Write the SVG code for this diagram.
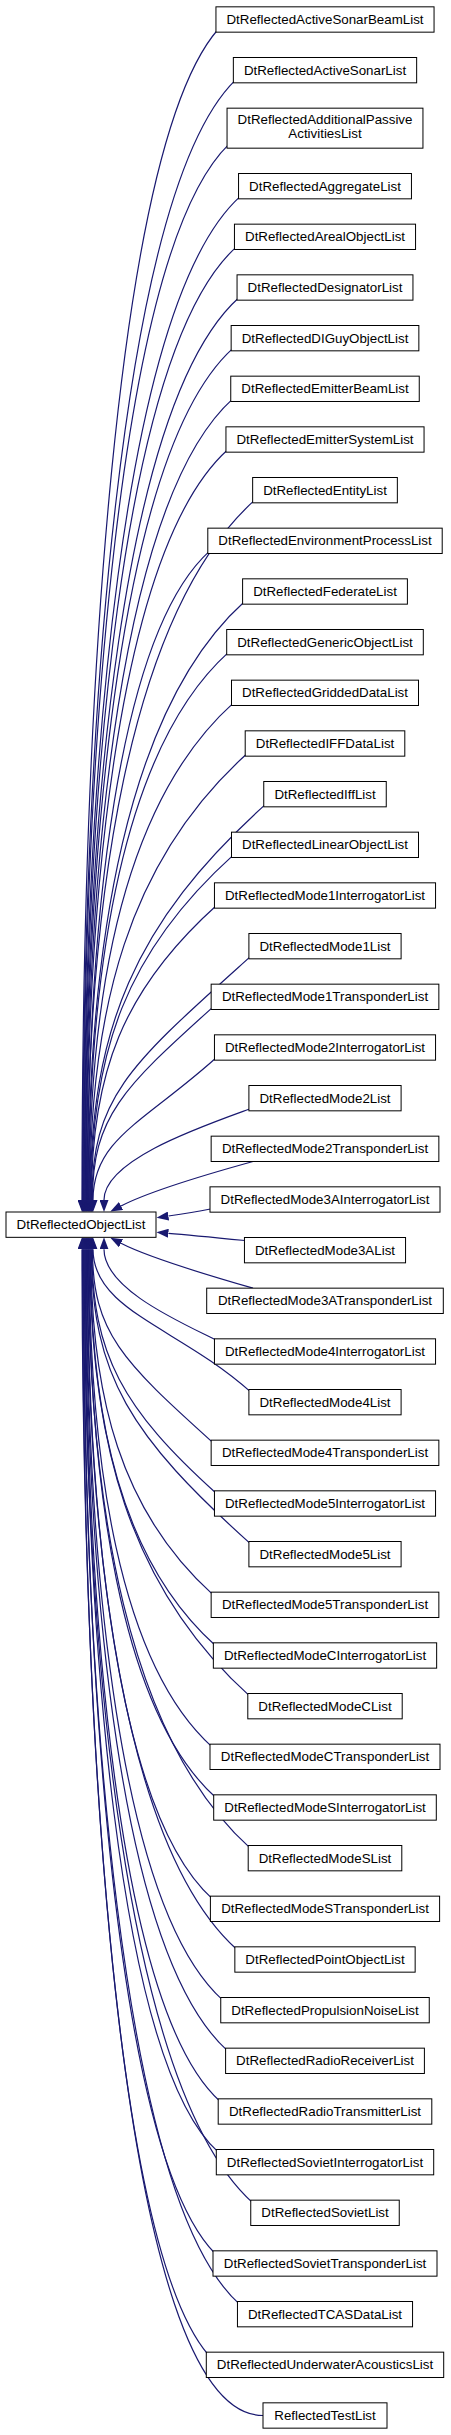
<svg xmlns="http://www.w3.org/2000/svg" width="451" height="2435" viewBox="0 0 451 2435">
<defs>
<marker id="ah" markerUnits="userSpaceOnUse" markerWidth="12" markerHeight="9" refX="0" refY="4.5" orient="auto" viewBox="0 0 12 9"><path d="M0,0L12,4.5L0,9z" fill="#191970"/></marker>
</defs>
<style>
.n rect{fill:#fff;stroke:#000;stroke-width:1}
.n text{font-family:'Liberation Sans',Arial,sans-serif;font-size:13.33px;text-anchor:middle;fill:#000}
.e path{fill:none;stroke:#191970;stroke-width:1.2;marker-end:url(#ah)}
</style>
<rect width="451" height="2435" fill="#fff"/>
<g id="edges" class="e">
<path d="M217.95,29.5 C116,146.55 82,696.7 82,1200"/>
<path d="M235.35,80.17 C120.75,192.2 82.55,718.5 82.55,1200"/>
<path d="M229.05,144.17 C119.55,249.8 83.1,746 83.1,1200"/>
<path d="M240.55,196.17 C122.85,302.1 83.65,768.4 83.65,1200"/>
<path d="M236.45,246.83 C122.25,349.6 84.2,790.1 84.2,1200"/>
<path d="M239.05,297.5 C123.35,401.6 84.75,811.9 84.75,1200"/>
<path d="M233.15,348.17 C122.25,448 85.3,833.7 85.3,1200"/>
<path d="M232.75,398.83 C122.55,498 85.85,855.5 85.85,1200"/>
<path d="M227.95,449.5 C121.75,545.1 86.4,877.3 86.4,1200"/>
<path d="M254.65,500.17 C128.85,613.4 86.95,899.1 86.95,1200"/>
<path d="M209.8,550.83 C118.1,633.3 87.5,920.9 87.5,1200"/>
<path d="M244.6,601.5 C127.2,707.2 88.05,942.6 88.05,1200"/>
<path d="M228.7,652.17 C123.6,746.8 88.6,964.4 88.6,1200"/>
<path d="M233.5,702.83 C125.2,800.2 89.15,986.2 89.15,1200"/>
<path d="M247.2,753.5 C129.1,859.8 89.7,1008 89.7,1200"/>
<path d="M265.75,804.17 C134.15,922.7 90.25,1029.8 90.25,1200"/>
<path d="M233.5,854.83 C126.5,951.1 90.8,1051.6 90.8,1200"/>
<path d="M216.45,905.5 C122.65,989.9 91.35,1073.4 91.35,1200"/>
<path d="M250.9,956.17 C131.65,1063.5 91.9,1095.2 91.9,1200"/>
<path d="M213.15,1006.83 C122.65,1088.3 92.45,1116.9 92.45,1200"/>
<path d="M216.45,1057.5 C145.2,1121.6 93,1138.7 93,1200"/>
<path d="M249.5,1109 C200,1127 104,1160 104,1200"/>
<path d="M253,1161.5 C215,1172 148,1192 121,1206"/>
<path d="M210.5,1209 C195,1212 182,1214 168.4,1216"/>
<path d="M245,1240.5 C215,1237.5 190,1235 168.4,1233.3"/>
<path d="M253,1288.2 C215,1277.3 148,1257.3 121,1243.3"/>
<path d="M216,1340 C180,1322 104,1289 104,1249.33"/>
<path d="M250.9,1392.17 C179.5,1327.9 93,1310.7 93,1249.33"/>
<path d="M213.15,1442.83 C122.65,1361.3 92.45,1332.5 92.45,1249.33"/>
<path d="M216.45,1493.5 C123.05,1409.4 91.9,1354.3 91.9,1249.33"/>
<path d="M250.9,1544.17 C131.2,1436.5 91.35,1376.1 91.35,1249.33"/>
<path d="M213.15,1594.83 C121.35,1512.2 90.8,1397.9 90.8,1249.33"/>
<path d="M215.35,1645.5 C121.55,1561.1 90.25,1419.7 90.25,1249.33"/>
<path d="M249.8,1696.17 C129.7,1588.1 89.7,1441.4 89.7,1249.33"/>
<path d="M212,1746.83 C119.9,1663.9 89.15,1463.2 89.15,1249.33"/>
<path d="M215.7,1797.5 C120.4,1711.7 88.6,1485 88.6,1249.33"/>
<path d="M250.2,1848.17 C128.6,1738.8 88.05,1506.8 88.05,1249.33"/>
<path d="M212.4,1898.83 C118.7,1814.5 87.5,1528.6 87.5,1249.33"/>
<path d="M236.85,1949.5 C124.45,1848.3 86.95,1550.4 86.95,1249.33"/>
<path d="M222.75,2000.17 C120.45,1908.1 86.4,1572.2 86.4,1249.33"/>
<path d="M227.6,2050.83 C121.3,1955.1 85.85,1593.9 85.85,1249.33"/>
<path d="M220.2,2101.5 C119,2010.4 85.3,1615.7 85.3,1249.33"/>
<path d="M218.3,2152.17 C118.1,2061.9 84.75,1637.5 84.75,1249.33"/>
<path d="M252.75,2202.83 C126.35,2089 84.2,1659.3 84.2,1249.33"/>
<path d="M215,2253.5 C116.5,2153.1 83.65,1681.1 83.65,1249.33"/>
<path d="M239.45,2304.17 C122.15,2198.6 83.1,1702.9 83.1,1249.33"/>
<path d="M208.3,2354.83 C114,2244.3 82.55,1724.7 82.55,1249.33"/>
<path d="M263,2415.5 C120,2415.5 82,1750 82,1249.33"/>
</g>
<g id="node0" class="n" transform="translate(81,1224.67)"><rect x="-75" y="-12.67" width="150" height="25.33"/><text y="4.5">DtReflectedObjectList</text></g>
<g id="node1" class="n" transform="translate(325,19.5)"><rect x="-109.05" y="-12.67" width="218.1" height="25.33"/><text y="4.5">DtReflectedActiveSonarBeamList</text></g>
<g id="node2" class="n" transform="translate(325,70.17)"><rect x="-91.65" y="-12.67" width="183.3" height="25.33"/><text y="4.5">DtReflectedActiveSonarList</text></g>
<g id="node3" class="n" transform="translate(325,128.17)"><rect x="-97.95" y="-20" width="195.9" height="40"/><text y="-4.2">DtReflectedAdditionalPassive</text><text y="10.3">ActivitiesList</text></g>
<g id="node4" class="n" transform="translate(325,186.17)"><rect x="-86.45" y="-12.67" width="172.9" height="25.33"/><text y="4.5">DtReflectedAggregateList</text></g>
<g id="node5" class="n" transform="translate(325,236.83)"><rect x="-90.55" y="-12.67" width="181.1" height="25.33"/><text y="4.5">DtReflectedArealObjectList</text></g>
<g id="node6" class="n" transform="translate(325,287.5)"><rect x="-87.95" y="-12.67" width="175.9" height="25.33"/><text y="4.5">DtReflectedDesignatorList</text></g>
<g id="node7" class="n" transform="translate(325,338.17)"><rect x="-93.85" y="-12.67" width="187.7" height="25.33"/><text y="4.5">DtReflectedDIGuyObjectList</text></g>
<g id="node8" class="n" transform="translate(325,388.83)"><rect x="-94.25" y="-12.67" width="188.5" height="25.33"/><text y="4.5">DtReflectedEmitterBeamList</text></g>
<g id="node9" class="n" transform="translate(325,439.5)"><rect x="-99.05" y="-12.67" width="198.1" height="25.33"/><text y="4.5">DtReflectedEmitterSystemList</text></g>
<g id="node10" class="n" transform="translate(325,490.17)"><rect x="-72.35" y="-12.67" width="144.7" height="25.33"/><text y="4.5">DtReflectedEntityList</text></g>
<g id="node11" class="n" transform="translate(325,540.83)"><rect x="-117.2" y="-12.67" width="234.4" height="25.33"/><text y="4.5">DtReflectedEnvironmentProcessList</text></g>
<g id="node12" class="n" transform="translate(325,591.5)"><rect x="-82.4" y="-12.67" width="164.8" height="25.33"/><text y="4.5">DtReflectedFederateList</text></g>
<g id="node13" class="n" transform="translate(325,642.17)"><rect x="-98.3" y="-12.67" width="196.6" height="25.33"/><text y="4.5">DtReflectedGenericObjectList</text></g>
<g id="node14" class="n" transform="translate(325,692.83)"><rect x="-93.5" y="-12.67" width="187" height="25.33"/><text y="4.5">DtReflectedGriddedDataList</text></g>
<g id="node15" class="n" transform="translate(325,743.5)"><rect x="-79.8" y="-12.67" width="159.6" height="25.33"/><text y="4.5">DtReflectedIFFDataList</text></g>
<g id="node16" class="n" transform="translate(325,794.17)"><rect x="-61.25" y="-12.67" width="122.5" height="25.33"/><text y="4.5">DtReflectedIffList</text></g>
<g id="node17" class="n" transform="translate(325,844.83)"><rect x="-93.5" y="-12.67" width="187" height="25.33"/><text y="4.5">DtReflectedLinearObjectList</text></g>
<g id="node18" class="n" transform="translate(325,895.5)"><rect x="-110.55" y="-12.67" width="221.1" height="25.33"/><text y="4.5">DtReflectedMode1InterrogatorList</text></g>
<g id="node19" class="n" transform="translate(325,946.17)"><rect x="-76.1" y="-12.67" width="152.2" height="25.33"/><text y="4.5">DtReflectedMode1List</text></g>
<g id="node20" class="n" transform="translate(325,996.83)"><rect x="-113.85" y="-12.67" width="227.7" height="25.33"/><text y="4.5">DtReflectedMode1TransponderList</text></g>
<g id="node21" class="n" transform="translate(325,1047.5)"><rect x="-110.55" y="-12.67" width="221.1" height="25.33"/><text y="4.5">DtReflectedMode2InterrogatorList</text></g>
<g id="node22" class="n" transform="translate(325,1098.17)"><rect x="-76.1" y="-12.67" width="152.2" height="25.33"/><text y="4.5">DtReflectedMode2List</text></g>
<g id="node23" class="n" transform="translate(325,1148.83)"><rect x="-113.85" y="-12.67" width="227.7" height="25.33"/><text y="4.5">DtReflectedMode2TransponderList</text></g>
<g id="node24" class="n" transform="translate(325,1199.5)"><rect x="-115" y="-12.67" width="230" height="25.33"/><text y="4.5">DtReflectedMode3AInterrogatorList</text></g>
<g id="node25" class="n" transform="translate(325,1250.17)"><rect x="-80.55" y="-12.67" width="161.1" height="25.33"/><text y="4.5">DtReflectedMode3AList</text></g>
<g id="node26" class="n" transform="translate(325,1300.83)"><rect x="-118.3" y="-12.67" width="236.6" height="25.33"/><text y="4.5">DtReflectedMode3ATransponderList</text></g>
<g id="node27" class="n" transform="translate(325,1351.5)"><rect x="-110.55" y="-12.67" width="221.1" height="25.33"/><text y="4.5">DtReflectedMode4InterrogatorList</text></g>
<g id="node28" class="n" transform="translate(325,1402.17)"><rect x="-76.1" y="-12.67" width="152.2" height="25.33"/><text y="4.5">DtReflectedMode4List</text></g>
<g id="node29" class="n" transform="translate(325,1452.83)"><rect x="-113.85" y="-12.67" width="227.7" height="25.33"/><text y="4.5">DtReflectedMode4TransponderList</text></g>
<g id="node30" class="n" transform="translate(325,1503.5)"><rect x="-110.55" y="-12.67" width="221.1" height="25.33"/><text y="4.5">DtReflectedMode5InterrogatorList</text></g>
<g id="node31" class="n" transform="translate(325,1554.17)"><rect x="-76.1" y="-12.67" width="152.2" height="25.33"/><text y="4.5">DtReflectedMode5List</text></g>
<g id="node32" class="n" transform="translate(325,1604.83)"><rect x="-113.85" y="-12.67" width="227.7" height="25.33"/><text y="4.5">DtReflectedMode5TransponderList</text></g>
<g id="node33" class="n" transform="translate(325,1655.5)"><rect x="-111.65" y="-12.67" width="223.3" height="25.33"/><text y="4.5">DtReflectedModeCInterrogatorList</text></g>
<g id="node34" class="n" transform="translate(325,1706.17)"><rect x="-77.2" y="-12.67" width="154.4" height="25.33"/><text y="4.5">DtReflectedModeCList</text></g>
<g id="node35" class="n" transform="translate(325,1756.83)"><rect x="-115" y="-12.67" width="230" height="25.33"/><text y="4.5">DtReflectedModeCTransponderList</text></g>
<g id="node36" class="n" transform="translate(325,1807.5)"><rect x="-111.3" y="-12.67" width="222.6" height="25.33"/><text y="4.5">DtReflectedModeSInterrogatorList</text></g>
<g id="node37" class="n" transform="translate(325,1858.17)"><rect x="-76.8" y="-12.67" width="153.6" height="25.33"/><text y="4.5">DtReflectedModeSList</text></g>
<g id="node38" class="n" transform="translate(325,1908.83)"><rect x="-114.6" y="-12.67" width="229.2" height="25.33"/><text y="4.5">DtReflectedModeSTransponderList</text></g>
<g id="node39" class="n" transform="translate(325,1959.5)"><rect x="-90.15" y="-12.67" width="180.3" height="25.33"/><text y="4.5">DtReflectedPointObjectList</text></g>
<g id="node40" class="n" transform="translate(325,2010.17)"><rect x="-104.25" y="-12.67" width="208.5" height="25.33"/><text y="4.5">DtReflectedPropulsionNoiseList</text></g>
<g id="node41" class="n" transform="translate(325,2060.83)"><rect x="-99.4" y="-12.67" width="198.8" height="25.33"/><text y="4.5">DtReflectedRadioReceiverList</text></g>
<g id="node42" class="n" transform="translate(325,2111.5)"><rect x="-106.8" y="-12.67" width="213.6" height="25.33"/><text y="4.5">DtReflectedRadioTransmitterList</text></g>
<g id="node43" class="n" transform="translate(325,2162.17)"><rect x="-108.7" y="-12.67" width="217.4" height="25.33"/><text y="4.5">DtReflectedSovietInterrogatorList</text></g>
<g id="node44" class="n" transform="translate(325,2212.83)"><rect x="-74.25" y="-12.67" width="148.5" height="25.33"/><text y="4.5">DtReflectedSovietList</text></g>
<g id="node45" class="n" transform="translate(325,2263.5)"><rect x="-112" y="-12.67" width="224" height="25.33"/><text y="4.5">DtReflectedSovietTransponderList</text></g>
<g id="node46" class="n" transform="translate(325,2314.17)"><rect x="-87.55" y="-12.67" width="175.1" height="25.33"/><text y="4.5">DtReflectedTCASDataList</text></g>
<g id="node47" class="n" transform="translate(325,2364.83)"><rect x="-118.7" y="-12.67" width="237.4" height="25.33"/><text y="4.5">DtReflectedUnderwaterAcousticsList</text></g>
<g id="node48" class="n" transform="translate(325,2415.5)"><rect x="-62" y="-12.67" width="124" height="25.33"/><text y="4.5">ReflectedTestList</text></g>
</svg>
